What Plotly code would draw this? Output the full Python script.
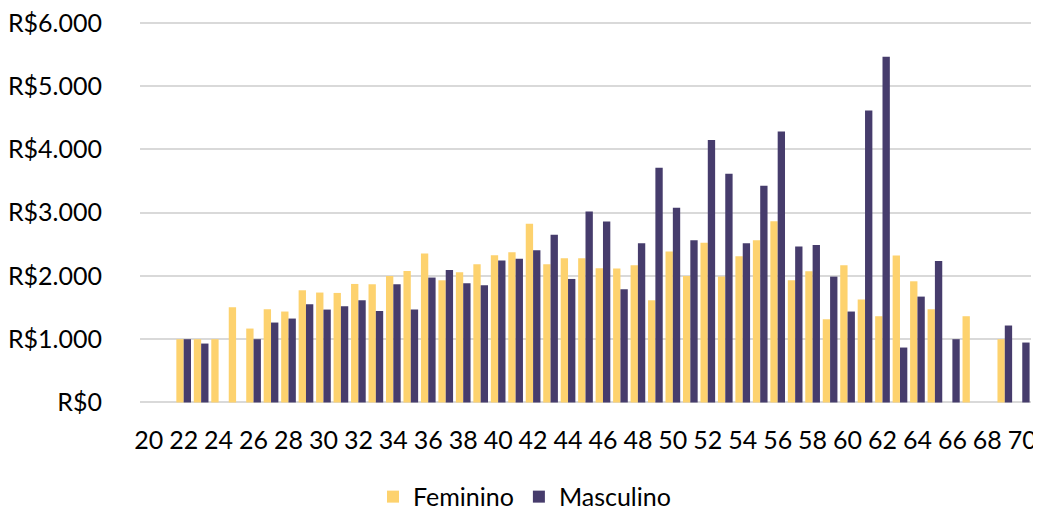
import plotly.graph_objects as go

ages = list(range(20, 71))
feminino = [None, None, 1000, 1000, 1000, 1505, 1168, 1473, 1437, 1773,
            1737, 1731, 1873, 1868, 2000, 2079, 2353, 1931, 2057, 2184,
            2326, 2373, 2826, 2184, 2278, 2278, 2121, 2116, 2168, 1615,
            2384, 2000, 2526, 1989, 2310, 2563, 2863, 1931, 2073, 1315,
            2168, 1626, 1363, 2321, 1915, 1473, None, 1363, None, 1000,
            None]
masculino = [None, None, 1000, 931, None, None, 1000, 1263, 1326, 1552,
             1468, 1521, 1615, 1447, 1868, 1468, 1974, 2094, 1884, 1852,
             2242, 2273, 2405, 2652, 1952, 3016, 2858, 1789, 2515, 3711,
             3079, 2563, 4147, 3616, 2515, 3426, 4284, 2463, 2489, 1989,
             1437, 4615, 5463, 868, 1673, 2236, 1000, None, None, 1216,
             947]
x_ticks = list(range(20, 71, 2))
y_ticks = [0, 1000, 2000, 3000, 4000, 5000, 6000]
y_labels = ["R$0", "R$1.000", "R$2.000", "R$3.000", "R$4.000", "R$5.000", "R$6.000"]

FONT = "Lato"
FS = 25

fig = go.Figure()
fig.add_trace(go.Bar(x=ages, y=feminino, name="Feminino",
                     marker=dict(color="#FDD26E", line=dict(width=0))))
fig.add_trace(go.Bar(x=ages, y=masculino, name="Masculino",
                     marker=dict(color="#463C6C", line=dict(width=0))))

# page body has an 8px default margin, so the figure is sized to fit the window
fig.update_layout(
    width=1033, height=504,
    margin=dict(l=132, r=10, t=10.5, b=107.2, autoexpand=False),
    paper_bgcolor="white", plot_bgcolor="white",
    barmode="group", bargap=0.16, bargroupgap=0,
    font=dict(family=FONT, size=FS, color="#000000"),
    showlegend=True,
    legend=dict(orientation="h", xref="container", x=0.5, xanchor="center",
                yref="container", y=0.03, yanchor="middle",
                font=dict(family=FONT, size=FS), itemsizing="constant",
                traceorder="normal"),
)
fig.update_xaxes(
    range=[19.5, 70.5], tickmode="array", tickvals=x_ticks,
    ticktext=[str(v) for v in x_ticks], automargin=False,
    showgrid=False, zeroline=False, showline=False, ticks="",
    ticklabelstandoff=18, ticklabeloverflow="allow",
    tickfont=dict(family=FONT, size=FS),
)
fig.update_yaxes(
    range=[-40, 6060], tickmode="array", tickvals=y_ticks, ticktext=y_labels,
    showgrid=True, gridcolor="#D9D9D9", gridwidth=2, automargin=False,
    zeroline=False, showline=False, ticks="",
    ticklabelstandoff=37, ticklabeloverflow="allow",
    tickfont=dict(family=FONT, size=FS),
)

fig.write_html("out.html")
